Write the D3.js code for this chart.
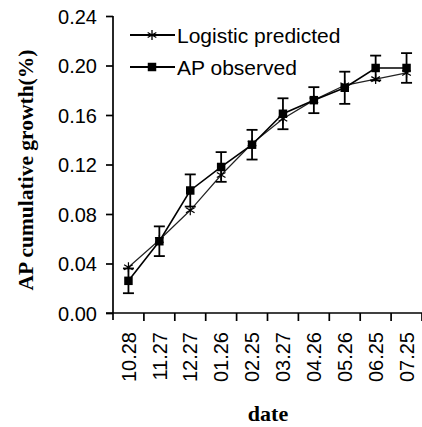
<!DOCTYPE html>
<html>
<head>
<meta charset="utf-8">
<script src="https://cdn.jsdelivr.net/npm/d3@7"></script>
<style>
	body { margin: 0; background: #fff; }
	svg { display: block; }
	.tick-label { font-family: "Liberation Sans", Arial, sans-serif; font-size: 20px; fill: #000; }
</style>
</head>
<body>
<div id="canvas"></div>
<script>
var width = 422,
	height = 427;

// categories and values
var dates = ["10.28", "11.27", "12.27", "01.26", "02.25", "03.27", "04.26", "05.26", "06.25", "07.25"];
var observed = [0.026, 0.058, 0.099, 0.118, 0.136, 0.161, 0.172, 0.182, 0.198, 0.198];
var observedErr = [0.010, 0.012, 0.013, 0.012, 0.012, 0.0125, 0.0105, 0.013, 0.010, 0.012];
var predicted = [0.037, 0.059, 0.083, 0.1115, 0.137, 0.157, 0.172, 0.184, 0.189, 0.194];
var yTicks = [0, 0.04, 0.08, 0.12, 0.16, 0.20, 0.24];

var svg = d3.select("#canvas").append("svg")
	.attr("width", width)
	.attr("height", height)

var x = d3.scaleBand()
	.domain(dates)
	.range([113, 422])
	.padding(0)

var y = d3.scaleLinear()
	.domain([0, 0.24])
	.range([313, 16])

function cx(d, i){ return x(dates[i]) + x.bandwidth()/2; }

// y axis
var yAxis = svg.append("g")
	.attr("transform", "translate(113,0)")
	.call(d3.axisLeft(y).tickValues(yTicks).tickSize(7).tickPadding(9).tickFormat(d3.format(".2f")))
yAxis.select(".domain").attr("stroke", "#000").attr("stroke-width", 1.7).attr("d", "M0,16V320")
yAxis.selectAll(".tick line").attr("stroke", "#000").attr("stroke-width", 1.7)
yAxis.selectAll(".tick text").attr("class", "tick-label").attr("dy", "0.36em")

// x axis (labels centred in bands, ticks between bands)
var xAxis = svg.append("g")
	.attr("transform", "translate(0,313)")
	.call(d3.axisBottom(x).tickSize(0).tickPadding(0))
xAxis.select(".domain").attr("stroke", "#000").attr("stroke-width", 1.7).attr("d", "M106,0H422")
xAxis.selectAll(".tick text")
	.attr("class", "tick-label")
	.attr("text-anchor", "end")
	.attr("transform", "translate(0,19) rotate(-90)")
	.attr("x", 0)
	.attr("y", 0)
	.attr("dy", "0.36em")

svg.append("g").selectAll("line")
	.data(dates)
	.enter()
	.append("line")
	.attr("x1", function(d){ return x(d) + x.bandwidth(); })
	.attr("x2", function(d){ return x(d) + x.bandwidth(); })
	.attr("y1", 313)
	.attr("y2", 321)
	.attr("stroke", "#000")
	.attr("stroke-width", 1.7)

// predicted line
var line = d3.line()
	.x(cx)
	.y(function(d){ return y(d); })

svg.append("path")
	.datum(predicted)
	.attr("d", line)
	.attr("fill", "none")
	.attr("stroke", "#222")
	.attr("stroke-width", 1.2)

// observed line
svg.append("path")
	.datum(observed)
	.attr("d", line)
	.attr("fill", "none")
	.attr("stroke", "#000")
	.attr("stroke-width", 1.6)

// error bars
var err = svg.append("g").selectAll("g")
	.data(observed)
	.enter()
	.append("g")
	.attr("stroke", "#000")
	.attr("stroke-width", 1.8)

err.append("line")
	.attr("x1", cx).attr("x2", cx)
	.attr("y1", function(d, i){ return y(d + observedErr[i]); })
	.attr("y2", function(d, i){ return y(d - observedErr[i]); })
err.append("line")
	.attr("x1", function(d, i){ return cx(d, i) - 5.5; })
	.attr("x2", function(d, i){ return cx(d, i) + 5.5; })
	.attr("y1", function(d, i){ return y(d + observedErr[i]); })
	.attr("y2", function(d, i){ return y(d + observedErr[i]); })
err.append("line")
	.attr("x1", function(d, i){ return cx(d, i) - 5.5; })
	.attr("x2", function(d, i){ return cx(d, i) + 5.5; })
	.attr("y1", function(d, i){ return y(d - observedErr[i]); })
	.attr("y2", function(d, i){ return y(d - observedErr[i]); })

// markers
var star = d3.symbol(d3.symbolAsterisk, 70)
var square = d3.symbol(d3.symbolSquare, 72)

svg.append("g").selectAll("path")
	.data(predicted)
	.enter()
	.append("path")
	.attr("d", star)
	.attr("transform", function(d, i){ return "translate(" + cx(d, i) + "," + y(d) + ")"; })
	.attr("fill", "none")
	.attr("stroke", "#000")
	.attr("stroke-width", 1.2)

svg.append("g").selectAll("path")
	.data(observed)
	.enter()
	.append("path")
	.attr("d", square)
	.attr("transform", function(d, i){ return "translate(" + cx(d, i) + "," + y(d) + ")"; })
	.attr("fill", "#000")

// legend
var legendItems = [
	{name: "Logistic predicted", symbol: star, y: 35, fill: "none"},
	{name: "AP observed", symbol: square, y: 67, fill: "#000"}
]
var legend = svg.append("g").selectAll("g")
	.data(legendItems)
	.enter()
	.append("g")
	.attr("transform", function(d){ return "translate(0," + d.y + ")"; })

legend.append("line")
	.attr("x1", 130).attr("x2", 175)
	.attr("stroke", "#000")
	.attr("stroke-width", 1.8)
legend.append("path")
	.attr("d", function(d){ return d.symbol(); })
	.attr("transform", "translate(152,0)")
	.attr("fill", function(d){ return d.fill; })
	.attr("stroke", function(d){ return d.fill == "none" ? "#000" : null; })
	.attr("stroke-width", 1.3)
legend.append("text")
	.attr("x", 177)
	.attr("dy", "0.36em")
	.style("font-family", "'Liberation Sans', Arial, sans-serif")
	.style("font-size", "21px")
	.text(function(d){ return d.name; })

// axis titles
svg.append("text")
	.attr("transform", "translate(33,170) rotate(-90)")
	.attr("text-anchor", "middle")
	.style("font-family", "'Liberation Serif', 'Times New Roman', serif")
	.style("font-weight", "bold")
	.style("font-size", "21.5px")
	.text("AP cumulative growth(%)")

svg.append("text")
	.attr("x", 268)
	.attr("y", 421)
	.attr("text-anchor", "middle")
	.style("font-family", "'Liberation Serif', 'Times New Roman', serif")
	.style("font-weight", "bold")
	.style("font-size", "22px")
	.text("date")
</script>
</body>
</html>
